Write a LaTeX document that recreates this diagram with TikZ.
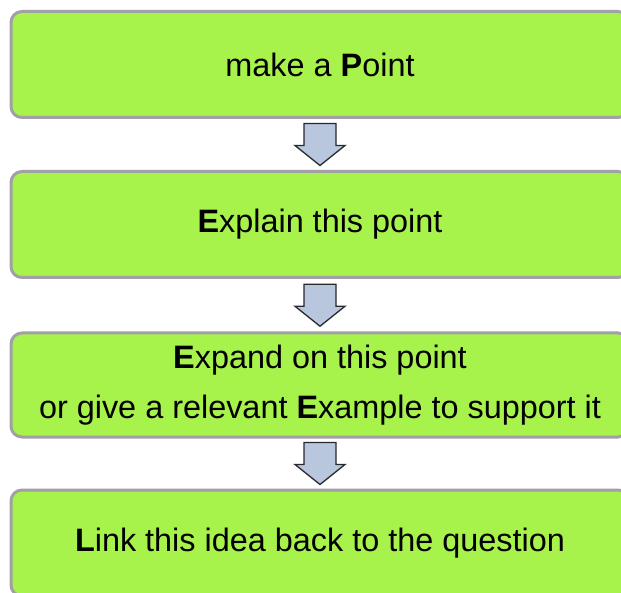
\documentclass[tikz,border=0pt]{standalone}
\usepackage{fontspec}
\setmainfont{Liberation Sans}
\usetikzlibrary{calc}
\definecolor{boxgreen}{RGB}{168,242,76}
\definecolor{boxgray}{RGB}{160,160,165}
\definecolor{arrowfill}{RGB}{184,198,222}
\definecolor{arrowline}{RGB}{40,40,45}
\begin{document}
\begin{tikzpicture}[x=1pt,y=-1pt,
  stepbox/.style={draw=boxgray, line width=3pt, fill=boxgreen, rounded corners=11pt,
    minimum width=618pt, minimum height=106pt, inner sep=0pt, align=center,
    font=\fontsize{32.4}{50}\selectfont},
  downarrow/.style={draw=arrowline, line width=1.3pt, fill=arrowfill, line join=miter}]
\fill[white] (0,0) rectangle (621,593);
\clip (0,0) rectangle (621,593);
\node[stepbox] (b1) at (320,64.5) {make a \textbf{P}oint};
\node[stepbox] (b2) at (320,224.5) {\textbf{E}xplain this point};
\node[stepbox, minimum height=104pt] (b3) at (320,385) {\textbf{E}xpand on this point\\or give a relevant \textbf{E}xample to support it};
\node[stepbox] (b4) at (320,543) {\textbf{L}ink this idea back to the question};
\foreach \a/\b in {b1/b2,b2/b3,b3/b4}{
  \coordinate (m) at ($(\a.south)!0.5!(\b.north)$);
  \draw[downarrow] ($(m)+(-16,-21)$) -- ($(m)+(16,-21)$) -- ($(m)+(16,1)$) -- ($(m)+(25,1)$)
    -- ($(m)+(0,21)$) -- ($(m)+(-25,1)$) -- ($(m)+(-16,1)$) -- cycle;
}
\end{tikzpicture}
\end{document}
